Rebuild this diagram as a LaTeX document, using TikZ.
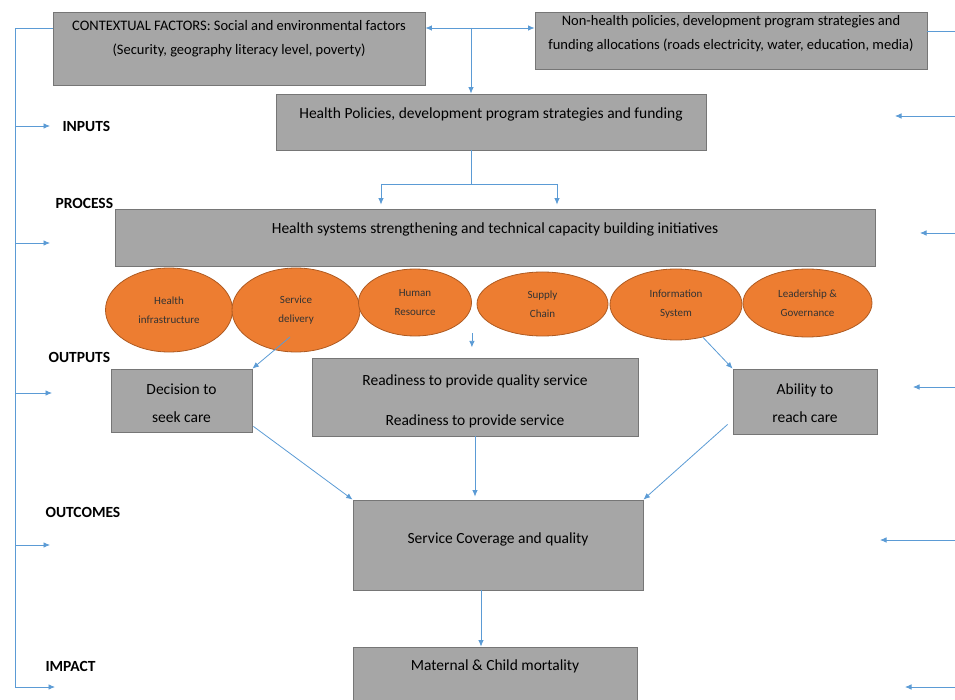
\documentclass[tikz,border=0pt]{standalone}
\usepackage{fontspec}
\setmainfont{Carlito}
\usetikzlibrary{arrows.meta, shapes.geometric, positioning, calc}
\definecolor{boxgray}{RGB}{166,166,166}
\definecolor{edgegray}{RGB}{118,118,118}
\definecolor{pillorange}{RGB}{237,125,49}
\definecolor{pilledge}{RGB}{174,90,33}
\definecolor{linkblue}{RGB}{91,155,213}

\begin{document}
\begin{tikzpicture}[x=1pt, y=-1pt,
    box/.style={draw=edgegray, fill=boxgray, line width=0.8pt, inner sep=2pt,
                minimum width=#1, align=center,
                font=\fontsize{15.5}{24}\selectfont},
    topbox/.style={box=#1, font=\fontsize{14.5}{24}\selectfont},
    pill/.style={ellipse, draw=pilledge, fill=pillorange, line width=0.8pt,
                 inner sep=0pt, align=center, text=black!80,
                 font=\fontsize{11}{19}\selectfont},
    stage/.style={anchor=west, font=\fontsize{15.5}{17}\selectfont\bfseries},
    flow/.style={draw=linkblue, line width=0.8pt, -{Latex[length=6.5pt,width=5.5pt]}},
    rail/.style={draw=linkblue, line width=0.8pt}
  ]
    \useasboundingbox (0,0) rectangle (955,700);

    % boxes
    \node[topbox=372pt, minimum height=73pt, text depth=22pt] (ctx) at (239,48.5)
      {CONTEXTUAL FACTORS: Social and environmental factors\\(Security, geography literacy level, poverty)};
    \node[topbox=392pt, minimum height=57pt, text depth=17pt] (nonh) at (731,40.5)
      {Non-health policies, development program strategies and\\funding allocations (roads electricity, water, education, media)};
    \node[box=430pt, minimum height=56pt, text depth=18pt] (hpol) at (491,122)
      {Health Policies, development program strategies and funding};
    \node[box=760pt, minimum height=57pt, text depth=18pt] (hss) at (495,237.5)
      {Health systems strengthening and technical capacity building initiatives};
    \node[box=141pt, minimum height=63pt] (dec) at (181.5,400.5)
      {\rule{0pt}{17pt}Decision to\\[4pt]seek care};
    \node[box=326pt, minimum height=78pt] (ready) at (475,397)
      {\rule{0pt}{19pt}Readiness to provide quality service\\[16pt]Readiness to provide service};
    \node[box=144pt, minimum height=65pt] (abil) at (805,401.5)
      {\rule{0pt}{15pt}Ability to\\[4pt]reach care};
    \node[box=290pt, minimum height=90pt, text depth=14pt] (cov) at (498,545)
      {Service Coverage and quality};
    \node[box=284pt, minimum height=66pt, text depth=29pt] (mat) at (495,680)
      {Maternal \& Child mortality};

    % building blocks
    \node[pill, minimum width=127pt, minimum height=84pt] (infra) at (169,310) {Health\\infrastructure};
    \node[pill, minimum width=128pt, minimum height=84pt] (deliv) at (296,310) {Service\\delivery};
    \node[pill, minimum width=113pt, minimum height=67pt] (hr) at (415,302.5) {Human\\Resource};
    \node[pill, minimum width=131pt, minimum height=64pt] (supply) at (542.5,304) {Supply\\Chain};
    \node[pill, minimum width=132pt, minimum height=71pt] (info) at (676,304.5) {Information\\System};
    \node[pill, minimum width=129pt, minimum height=68pt] (lead) at (807.5,303) {Leadership \&\\Governance};

    % levels
    \node[stage] (inputs) at (59,126) {INPUTS};
    \node[stage] (process) at (52,203) {PROCESS};
    \node[stage] (outputs) at (45,357) {OUTPUTS};
    \node[stage] (outcomes) at (42,512) {OUTCOMES};
    \node[stage] (impact) at (42,666) {IMPACT};

    % left rail
    \coordinate (railtop) at (15,28);
    \coordinate (railend) at (15,687);
    \draw[rail] (ctx.west |- railtop) -- (railtop) -- (railend);
    \foreach \y/\tip in {126/50, 243/50, 393/52, 545/50, 687/55}
      \draw[flow] (railtop |- 0,\y) -- (\tip,\y);

    % right side
    \draw[rail] (nonh.east |- 0,31) -- (960,31);
    \foreach \y/\tip in {116/895, 233/920, 387/913, 540/880, 687/905}
      \draw[flow] (960,\y) -- (\tip,\y);

    % top links
    \coordinate (split) at (471,28);
    \draw[flow] (split) -- (ctx.east |- split);
    \draw[flow] (split) -- (nonh.west |- split);
    \draw[flow] (split) -- (split |- hpol.north);

    \coordinate (fork) at (471,184);
    \coordinate (forkL) at (381,184);
    \coordinate (forkR) at (557,184);
    \draw[rail] (hpol.south -| fork) -- (fork);
    \draw[rail] (forkL) -- (forkR);
    \draw[flow] (forkL) -- ($(forkL |- hss.north)+(0,-4)$);
    \draw[flow] (forkR) -- ($(forkR |- hss.north)+(0,-4)$);

    % outputs
    \draw[flow] ($(deliv.center)+(-6,27)$) -- (dec.north east);
    \draw[flow] ($(hr.east |- hr.south)+(0,-3)$) -- ++(0,14);
    \draw[flow] ($(info.south)+(27,-3)$) -- (abil.north west);

    % outcomes and impact
    \draw[flow] ($(dec.south east)+(1,-6)$) -- (cov.north west);
    \draw[flow] (ready.south) -- ($(ready.south |- cov.north)+(0,-3)$);
    \draw[flow] ($(abil.south west)+(-5,-10)$) -- (cov.north east);
    \coordinate (covout) at ($(cov.south)+(-17,0)$);
    \draw[flow] (covout) -- (covout |- mat.north);
  \end{tikzpicture}
\end{document}
